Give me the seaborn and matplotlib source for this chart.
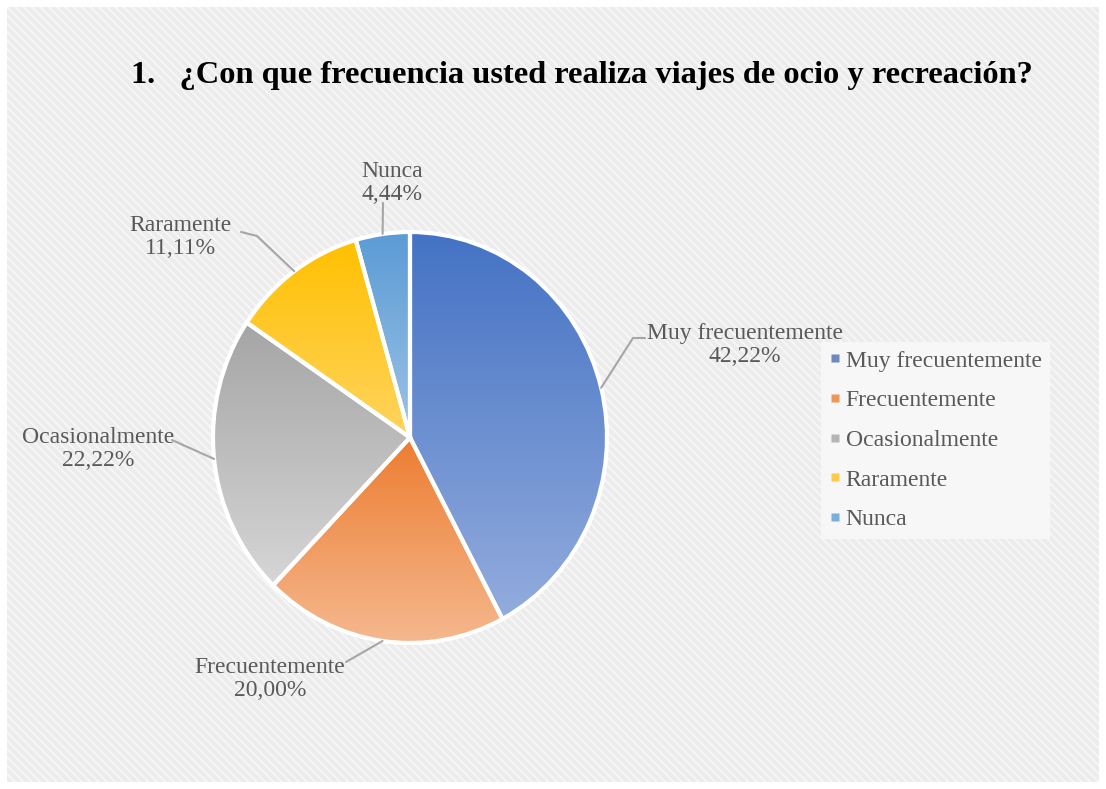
import numpy as np
import matplotlib
matplotlib.use("Agg")
import matplotlib.pyplot as plt
import seaborn as sns
from matplotlib.patches import Rectangle
from matplotlib.lines import Line2D
from matplotlib.colors import to_rgb

# ---- data ----
categories = ["Muy frecuentemente", "Frecuentemente", "Ocasionalmente", "Raramente", "Nunca"]
values = [42.22, 20.00, 22.22, 11.11, 4.44]
title = "1.   ¿Con que frecuencia usted realiza viajes de ocio y recreación?"

# ---- styles ----
dark_colors = ["#4472C4", "#ED7D31", "#A5A5A5", "#FFC000", "#5B9BD5"]
light_colors = ["#93ACDD", "#F5B88E", "#D6D6D6", "#FFD45E", "#9DC3E6"]
legend_colors = ["#6F88C0", "#F0955A", "#B5B5B5", "#FFC94A", "#7AAEDC"]

sns.set_theme(style="white")
plt.rcParams['font.family'] = ['Liberation Serif', 'DejaVu Serif']
plt.rcParams['hatch.linewidth'] = 1.2

W, H = 1106, 789
fig = plt.figure(figsize=(W / 100, H / 100), dpi=100)
fig.patch.set_facecolor('white')
bg = Rectangle((7 / W, 7 / H), 1 - 14 / W, 1 - 14 / H, transform=fig.transFigure,
               facecolor='#ececec', edgecolor='#f8f8f8', hatch='\\\\\\\\',
               linewidth=0, zorder=-5)
fig.patches.append(bg)

# pie geometry in pixels (slightly taller than wide, as in the reference)
cx, cy, Rx, Ry = 410, 437.5, 197, 205.5

ax = fig.add_axes([0, 0, 1, 1])
ax.set_zorder(1)
ax.patch.set_alpha(0)

wedges, _ = ax.pie(values, startangle=90, counterclock=False, radius=1,
                   wedgeprops=dict(edgecolor='white', linewidth=3))

def px2d(x, y):
    return (x - cx) / Rx, (cy - y) / Ry

for w, c1, c2 in zip(wedges, dark_colors, light_colors):
    th = np.radians(np.linspace(w.theta1, w.theta2, 200))
    xs = np.concatenate([[0], np.cos(th)])
    ys = np.concatenate([[0], np.sin(th)])
    a, b = np.array(to_rgb(c1)), np.array(to_rgb(c2))
    t = np.linspace(0, 1, 256)[:, None]
    grad = (a[None, :] * (1 - t) + b[None, :] * t)[:, None, :]
    im = ax.imshow(grad, extent=(xs.min(), xs.max(), ys.min(), ys.max()),
                   origin='upper', aspect='auto', zorder=2, interpolation='bilinear')
    im.set_clip_path(w)
    w.set_facecolor('none')
    w.set_zorder(3)

ax.set_aspect('auto')
ax.set_xlim(-cx / Rx, (W - cx) / Rx)
ax.set_ylim(-(H - cy) / Ry, cy / Ry)
ax.axis('off')

# labels (text centres and leader-line anchor points, in pixels)
label_px = [(745, 345), (270, 679), (98, 449), (180, 237), (392, 183)]
leader_px = [[(645, 338), (633, 338)],
             [(346, 662)],
             [(172, 440)],
             [(241, 232), (257, 236)],
             [(383, 203)]]
for w, cat, v, lp, sp in zip(wedges, categories, values, label_px, leader_px):
    mid = np.radians((w.theta1 + w.theta2) / 2)
    pts = [px2d(*p) for p in sp] + [(np.cos(mid), np.sin(mid))]
    ax.plot([p[0] for p in pts], [p[1] for p in pts], color='#a6a6a6', lw=1.5,
            zorder=4, solid_joinstyle='round')
    tx, ty = px2d(*lp)
    txt = f"{cat}\n{v:.2f}%".replace('.', ',')
    ax.text(tx, ty, txt, ha='center', va='center', fontsize=17, color='#595959',
            linespacing=1.15, zorder=5)

fig.text(582 / W, 1 - 75 / H, title, ha='center', va='center', fontsize=23.3,
         fontweight='bold', color='black')

handles = [Line2D([], [], marker='s', linestyle='none', markersize=6,
                  markerfacecolor=c, markeredgecolor='none') for c in legend_colors]
leg = fig.legend(handles, categories, loc='upper left',
                 bbox_to_anchor=(809 / W, 1 - 330 / H), frameon=True,
                 facecolor='#f7f7f7', edgecolor='none', fancybox=False,
                 framealpha=1, fontsize=17, labelcolor='#595959',
                 handlelength=0.5, handletextpad=0.2, labelspacing=0.77,
                 borderpad=0.35)
leg.set_zorder(6)

fig.savefig('out.png', dpi=100, facecolor='white')
